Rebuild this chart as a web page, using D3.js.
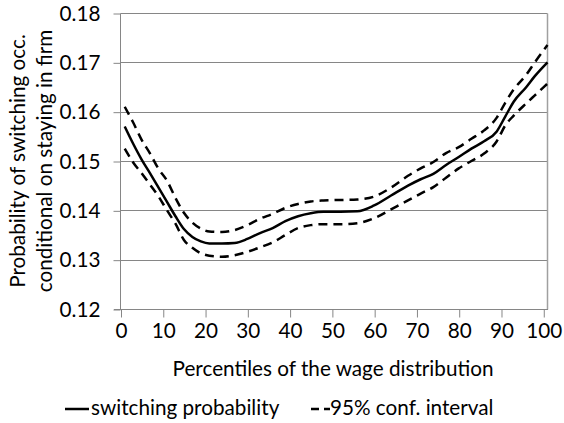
<!DOCTYPE html>
<html>
<head>
<meta charset="utf-8">
<script src="https://cdn.jsdelivr.net/npm/d3@7/dist/d3.min.js"></script>
<style>
  html, body { margin: 0; padding: 0; background: #fff; }
  svg { display: block; }
  text { font-family: Lato, "Open Sans", sans-serif; fill: #000; }
</style>
</head>
<body>
<svg id="chart" width="564" height="423"></svg>
<script>
// ---- data ----
const percentiles = [1, 3, 5, 7, 9, 11, 13, 15, 17, 19, 21, 24, 27, 30, 33, 36, 39, 42, 45, 48, 52, 56, 60, 64, 68, 71, 74, 77, 80, 83, 86, 89, 91, 93, 96, 98, 101];
const switchingProb = [0.1570, 0.1535, 0.1503, 0.1475, 0.1446, 0.1417, 0.1388, 0.1362, 0.1346, 0.1337, 0.1333, 0.1333, 0.1334, 0.1342, 0.1354, 0.1364, 0.1378, 0.1388, 0.1394, 0.1397, 0.1397, 0.1398, 0.1410, 0.1430, 0.1450, 0.1463, 0.1474, 0.1492, 0.1508, 0.1525, 0.1540, 0.1560, 0.1590, 0.1620, 0.1650, 0.1672, 0.1700];
const ciUpper = [0.1610, 0.1578, 0.1543, 0.1515, 0.1484, 0.1460, 0.1425, 0.1395, 0.1375, 0.1363, 0.1357, 0.1356, 0.1360, 0.1370, 0.1383, 0.1393, 0.1405, 0.1413, 0.1418, 0.1420, 0.1421, 0.1422, 0.1428, 0.1446, 0.1470, 0.1485, 0.1498, 0.1516, 0.1528, 0.1545, 0.1562, 0.1588, 0.1618, 0.1645, 0.1675, 0.1700, 0.1735];
const ciLower = [0.1525, 0.1497, 0.1475, 0.1452, 0.1428, 0.1400, 0.1373, 0.1340, 0.1324, 0.1313, 0.1308, 0.1306, 0.1309, 0.1316, 0.1325, 0.1335, 0.1350, 0.1364, 0.1370, 0.1372, 0.1372, 0.1374, 0.1384, 0.1402, 0.1420, 0.1434, 0.1447, 0.1466, 0.1485, 0.1500, 0.1515, 0.1540, 0.1572, 0.1592, 0.1617, 0.1633, 0.1657];
const xTicks = [0, 10, 20, 30, 40, 50, 60, 70, 80, 90, 100];
const yTicks = [0.12, 0.13, 0.14, 0.15, 0.16, 0.17, 0.18];
const yTitleLines = ["Probability of switching occ.", "conditional on staying in firm"];
const xTitle = "Percentiles of the wage distribution";
const legendLabels = ["switching probability", "95% conf. interval"];

// ---- layout ----
const svg = d3.select("#chart");
const pLeft = 120.5, pRight = 547.5, pTop = 13, pBottom = 309;
const fontSize = 20.7;
const gridColor = "#868686";

const x = d3.scaleLinear().domain([0, 101]).range([pLeft, pRight]);
const y = d3.scaleLinear().domain([0.12, 0.18]).range([pBottom, pTop]);

// gridlines
svg.append("g")
  .selectAll("line")
  .data(yTicks.slice(1))
  .join("line")
  .attr("x1", pLeft).attr("x2", pRight)
  .attr("y1", d => Math.round(y(d)) + 0.5).attr("y2", d => Math.round(y(d)) + 0.5)
  .attr("stroke", gridColor).attr("stroke-width", 1);

// right border
svg.append("line")
  .attr("x1", pRight).attr("x2", pRight)
  .attr("y1", Math.round(y(0.18)) + 0.5).attr("y2", pBottom + 0.5)
  .attr("stroke", "#a0a0a0").attr("stroke-width", 1.5);

// y axis
const yAxis = svg.append("g")
  .attr("transform", `translate(${pLeft},0.5)`)
  .call(d3.axisLeft(y).tickValues(yTicks).tickFormat(d3.format(".2f")).tickSize(7).tickPadding(13));
yAxis.select(".domain").attr("stroke", gridColor).attr("d", `M0,${y(0.18)}V${y(0.12)}`);
yAxis.selectAll(".tick line").attr("stroke", gridColor);
yAxis.selectAll(".tick text")
  .style("font-family", "Lato, 'Open Sans', sans-serif")
  .style("font-size", fontSize + "px").attr("fill", "#000");

// x axis
const xAxis = svg.append("g")
  .attr("transform", `translate(0.5,${Math.round(pBottom) + 0.5})`)
  .call(d3.axisBottom(x).tickValues(xTicks).tickFormat(d3.format("d")).tickSize(8).tickPadding(6));
xAxis.select(".domain").attr("stroke", gridColor).attr("d", `M${pLeft - 7},0H${pRight}`);
xAxis.selectAll(".tick line").attr("stroke", gridColor);
xAxis.selectAll(".tick text")
  .style("font-family", "Lato, 'Open Sans', sans-serif")
  .style("font-size", fontSize + "px").attr("fill", "#000");

// lines
const line = d3.line()
  .x((d, i) => x(percentiles[i]))
  .y(d => y(d))
  .curve(d3.curveMonotoneX);

const plot = svg.append("g");
plot.append("path").datum(ciUpper)
  .attr("d", line).attr("fill", "none").attr("stroke", "#000")
  .attr("stroke-width", 2.5).attr("stroke-dasharray", "9,6");
plot.append("path").datum(ciLower)
  .attr("d", line).attr("fill", "none").attr("stroke", "#000")
  .attr("stroke-width", 2.5).attr("stroke-dasharray", "9,6");
plot.append("path").datum(switchingProb)
  .attr("d", line).attr("fill", "none").attr("stroke", "#000")
  .attr("stroke-width", 2.5);

// y title
const yTitleX = [25, 52];
yTitleLines.forEach((t, i) => {
  svg.append("text")
    .attr("transform", `translate(${yTitleX[i]},${(pTop + pBottom) / 2}) rotate(-90)`)
    .attr("text-anchor", "middle")
    .style("font-size", fontSize + "px")
    .text(t);
});

// x title
svg.append("text")
  .attr("x", (pLeft + pRight) / 2 - 1).attr("y", 376)
  .attr("text-anchor", "middle")
  .style("font-size", fontSize + "px")
  .text(xTitle);

// legend
const lg = svg.append("g");
lg.append("line").attr("x1", 65).attr("x2", 89).attr("y1", 409).attr("y2", 409)
  .attr("stroke", "#000").attr("stroke-width", 2.5);
lg.append("text").attr("x", 91).attr("y", 415).style("font-size", fontSize + "px").text(legendLabels[0]);
lg.append("line").attr("x1", 311).attr("x2", 330).attr("y1", 409).attr("y2", 409)
  .attr("stroke", "#000").attr("stroke-width", 2.5).attr("stroke-dasharray", "8,5");
lg.append("text").attr("x", 330).attr("y", 415).style("font-size", fontSize + "px").text(legendLabels[1]);
</script>
</body>
</html>
